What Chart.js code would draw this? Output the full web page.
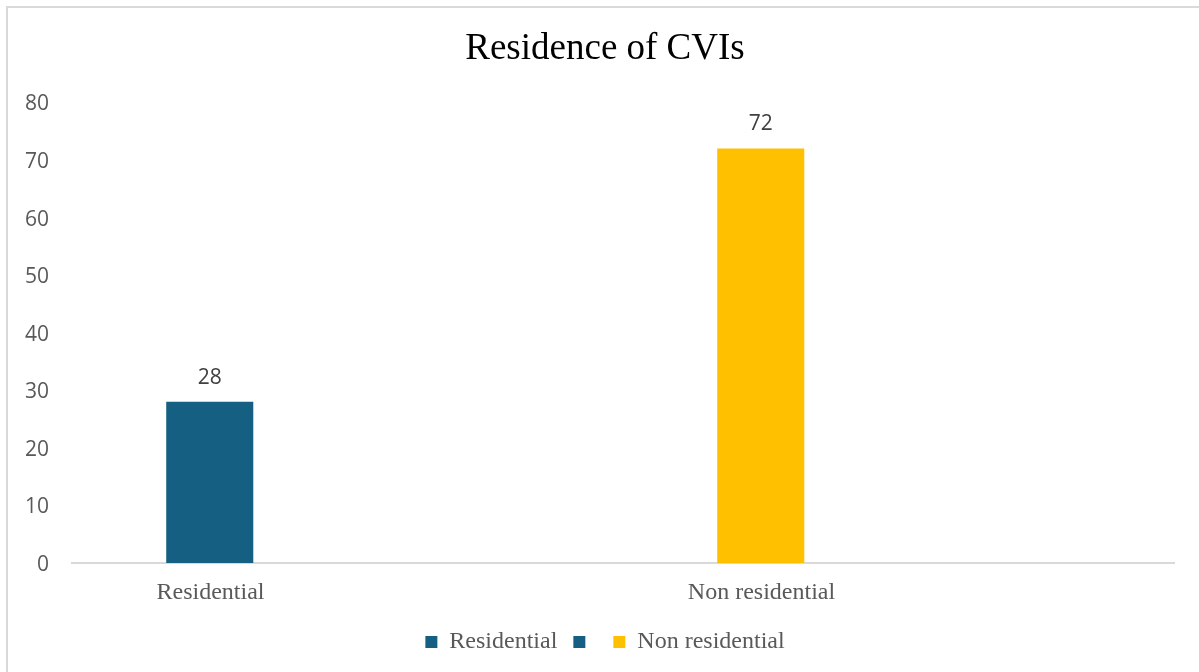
<!DOCTYPE html>
<html>
<head>
<meta charset="utf-8">
<script src="https://cdn.jsdelivr.net/npm/chart.js@4/dist/chart.umd.min.js"></script>
<style>
html,body{margin:0;padding:0;background:#fff;}
#c{display:block;}
</style>
</head>
<body>
<canvas id="c" width="1199" height="672"></canvas>
<script>
const categories = ["Residential", "Non residential"];
const values = [28, 72];
const barColors = ["#156082", "#FFC000"];
const legendNames = ["Residential", "", "Non residential"];
const legendColors = ["#156082", "#156082", "#FFC000"];
const yTicks = { min: 0, max: 80, step: 10 };
const chartTitle = "Residence of CVIs";

const borderPlugin = {
  id: 'frame',
  beforeDraw(chart) {
    const ctx = chart.ctx;
    ctx.save();
    ctx.strokeStyle = '#D9D9D9';
    ctx.lineWidth = 2;
    ctx.beginPath();
    ctx.moveTo(7, chart.height + 2);
    ctx.lineTo(7, 7);
    ctx.lineTo(chart.width + 2, 7);
    ctx.stroke();
    ctx.restore();
  }
};

const labelPlugin = {
  id: 'valueLabels',
  afterDatasetsDraw(chart) {
    const ctx = chart.ctx;
    ctx.save();
    ctx.font = '21px "Open Sans"';
    ctx.fillStyle = '#404040';
    ctx.textAlign = 'center';
    ctx.textBaseline = 'alphabetic';
    chart.data.datasets.forEach((ds, di) => {
      const meta = chart.getDatasetMeta(di);
      meta.data.forEach((el, i) => {
        const v = ds.data[i];
        if (v === null || v === undefined) return;
        ctx.fillText(String(v), el.x, el.y - 18);
      });
    });
    ctx.restore();
  }
};

new Chart(document.getElementById('c'), {
  type: 'bar',
  data: {
    labels: categories,
    datasets: [
      { label: legendNames[0], data: values, backgroundColor: barColors, borderWidth: 0 },
      { label: legendNames[1], data: categories.map(() => null), backgroundColor: legendColors[1] }
    ]
  },
  options: {
    responsive: false,
    animation: false,
    devicePixelRatio: 1,
    categoryPercentage: 1.0,
    barPercentage: 0.316,
    layout: { padding: { left: 11, right: 0, top: 0, bottom: 8 } },
    plugins: {
      title: {
        display: true,
        text: chartTitle,
        color: '#000000',
        font: { family: '"Liberation Serif", "Times New Roman", serif', size: 37, weight: 'normal', lineHeight: 1.2 },
        padding: { top: 27.5, bottom: 30.5 }
      },
      legend: {
        display: true,
        position: 'bottom',
        labels: {
          boxWidth: 12,
          boxHeight: 12,
          padding: 16,
          color: '#595959',
          font: { family: '"Liberation Serif", "Times New Roman", serif', size: 24 },
          generateLabels() {
            return legendNames.map((n, i) => ({
              text: n,
              fillStyle: legendColors[i],
              strokeStyle: legendColors[i],
              lineWidth: 0,
              hidden: false,
              datasetIndex: 0,
              fontColor: '#595959'
            }));
          }
        },
        onClick() {}
      },
      tooltip: { enabled: false }
    },
    scales: {
      x: {
        grid: { display: false, drawTicks: false },
        border: { display: true, color: '#D9D9D9', width: 2 },
        ticks: {
          color: '#595959',
          padding: 15,
          labelOffset: -137,
          font: { family: '"Liberation Serif", "Times New Roman", serif', size: 24 }
        },
        afterFit(scale) { scale.height = 51; }
      },
      y: {
        min: yTicks.min,
        max: yTicks.max,
        grid: { display: false, drawTicks: false },
        border: { display: false },
        ticks: {
          stepSize: yTicks.step,
          color: '#595959',
          padding: 23,
          labelOffset: 2,
          font: { family: '"Open Sans", sans-serif', size: 21 }
        },
        afterFit(scale) { scale.width = 61; }
      },
      yRightSpace: {
        type: 'linear',
        position: 'right',
        display: true,
        min: yTicks.min,
        max: yTicks.max,
        grid: { display: false, drawTicks: false },
        border: { display: false },
        ticks: { display: false },
        afterFit(scale) { scale.width = 25; }
      }
    }
  },
  plugins: [borderPlugin, labelPlugin]
});
</script>
</body>
</html>
